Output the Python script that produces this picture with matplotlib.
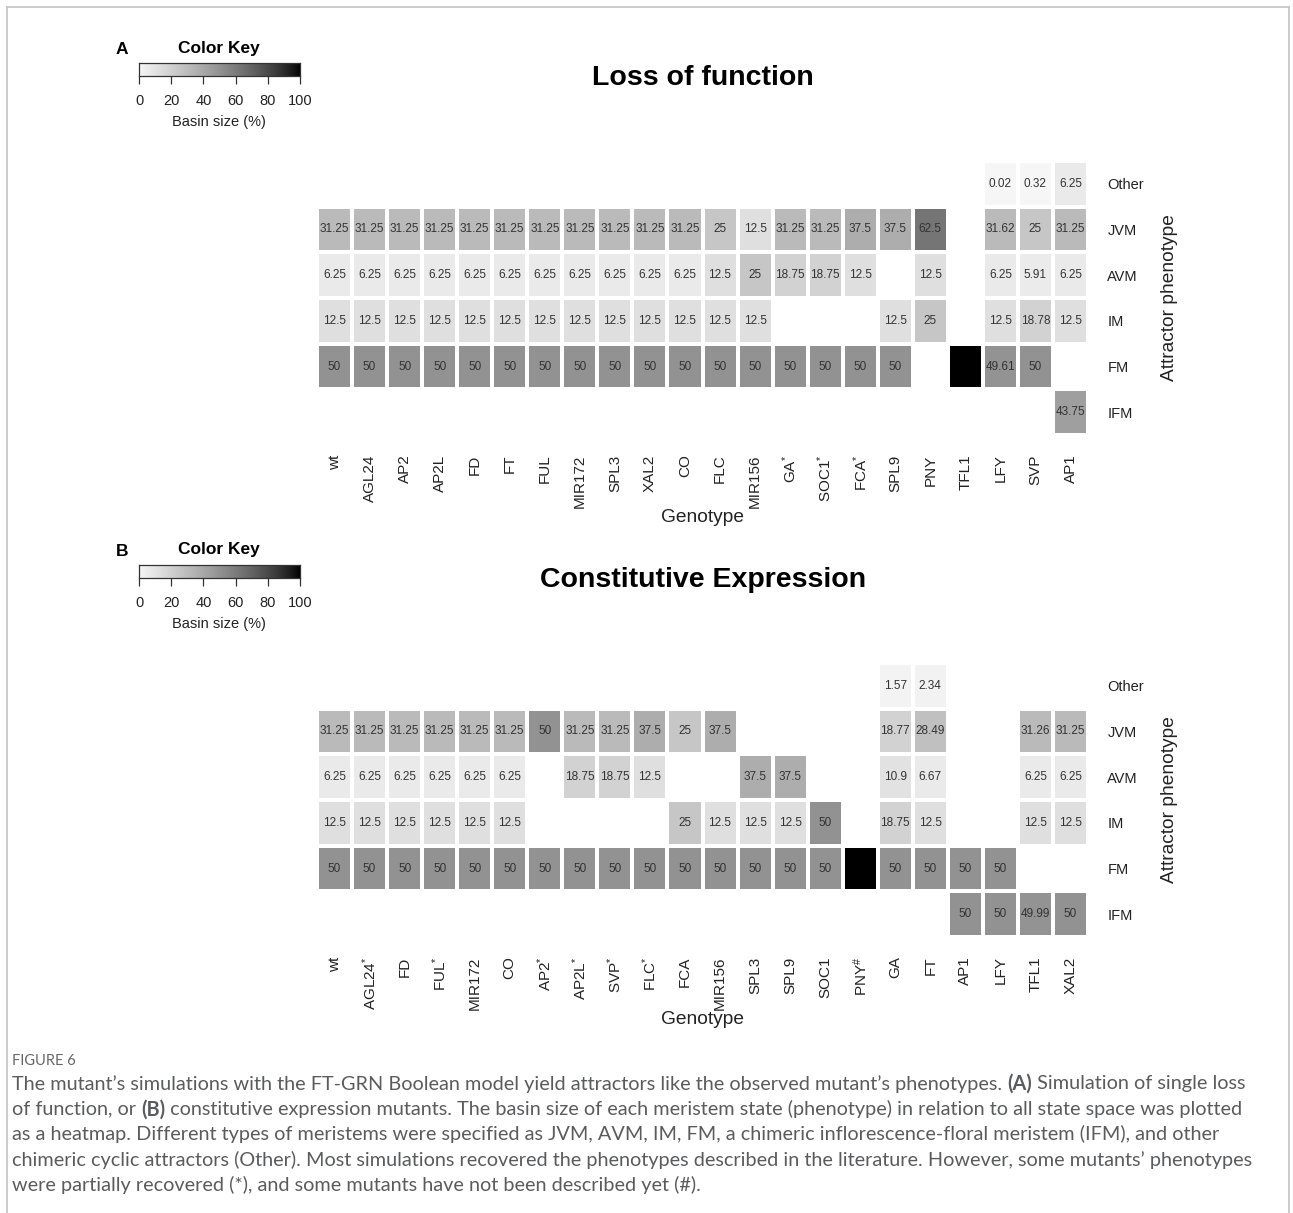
import numpy as np
import matplotlib
matplotlib.use('Agg')
import matplotlib.pyplot as plt
from matplotlib.colors import ListedColormap
from matplotlib.lines import Line2D

plt.rcParams['font.family'] = ['Liberation Sans', 'DejaVu Sans']
plt.rcParams['mathtext.default'] = 'regular'

W, H = 1293, 1213
nan = np.nan

phenotypes = ['Other', 'JVM', 'AVM', 'IM', 'FM', 'IFM']

# A: loss of function mutants
lof_genotypes = ['wt', 'AGL24', 'AP2', 'AP2L', 'FD', 'FT', 'FUL', 'MIR172', 'SPL3', 'XAL2',
                 'CO', 'FLC', 'MIR156', 'GA$^{*}$', 'SOC1$^{*}$', 'FCA$^{*}$', 'SPL9', 'PNY',
                 'TFL1', 'LFY', 'SVP', 'AP1']
lof_other = [nan] * 19 + [0.02, 0.32, 6.25]
lof_jvm = [31.25] * 11 + [25, 12.5, 31.25, 31.25, 37.5, 37.5, 62.5, nan, 31.62, 25, 31.25]
lof_avm = [6.25] * 11 + [12.5, 25, 18.75, 18.75, 12.5, nan, 12.5, nan, 6.25, 5.91, 6.25]
lof_im = [12.5] * 11 + [12.5, 12.5, nan, nan, nan, 12.5, 25, nan, 12.5, 18.78, 12.5]
lof_fm = [50] * 11 + [50, 50, 50, 50, 50, 50, nan, 100, 49.61, 50, nan]
lof_ifm = [nan] * 21 + [43.75]

# B: constitutive expression mutants
ce_genotypes = ['wt', 'AGL24$^{*}$', 'FD', 'FUL$^{*}$', 'MIR172', 'CO', 'AP2$^{*}$', 'AP2L$^{*}$',
                'SVP$^{*}$', 'FLC$^{*}$', 'FCA', 'MIR156', 'SPL3', 'SPL9', 'SOC1', r'PNY$^{\#}$',
                'GA', 'FT', 'AP1', 'LFY', 'TFL1', 'XAL2']
ce_other = [nan] * 16 + [1.57, 2.34, nan, nan, nan, nan]
ce_jvm = [31.25] * 6 + [50, 31.25, 31.25, 37.5, 25, 37.5, nan, nan, nan, nan,
                        18.77, 28.49, nan, nan, 31.26, 31.25]
ce_avm = [6.25] * 6 + [nan, 18.75, 18.75, 12.5, nan, nan, 37.5, 37.5, nan, nan,
                       10.9, 6.67, nan, nan, 6.25, 6.25]
ce_im = [12.5] * 6 + [nan, nan, nan, nan, 25, 12.5, 12.5, 12.5, 50, nan,
                      18.75, 12.5, nan, nan, 12.5, 12.5]
ce_fm = [50] * 15 + [100, 50, 50, 50, 50, nan, nan]
ce_ifm = [nan] * 18 + [50, 50, 49.99, 50]

key_ticks = [0, 20, 40, 60, 80, 100]

# grey ramp, light at 0 and black at 100
_t = np.linspace(0, 1, 256)
_g = 0.965 * (1 - _t) ** 0.75
cmap_basin = ListedColormap(np.column_stack([_g, _g, _g]))

fig = plt.figure(figsize=(W / 100, H / 100), dpi=100)


def px_axes(x0, y0, x1, y1):
    return fig.add_axes([x0 / W, 1 - y1 / H, (x1 - x0) / W, (y1 - y0) / H])


def fx(x):
    return x / W


def fy(y):
    return 1 - y / H


def draw_panel(dy, letter, title, genotypes, rows):
    data = np.array(rows, dtype=float)
    nr, nc = data.shape

    # colour key
    fig.text(fx(122), fy(50 + dy), letter, fontsize=12.5, fontweight='bold', ha='center', va='center')
    fig.text(fx(219), fy(48 + dy), 'Color Key', fontsize=12.5, fontweight='bold', ha='center', va='center')
    kax = px_axes(139, 63 + dy, 300, 76 + dy)
    kax.imshow(np.linspace(0, 100, 256).reshape(1, -1), cmap=cmap_basin, vmin=0, vmax=100,
               aspect='auto', extent=[0, 100, 0, 1])
    kax.set_yticks([])
    kax.set_xticks(key_ticks)
    kax.set_xticklabels([str(t) for t in key_ticks])
    kax.tick_params(axis='x', direction='out', length=6, width=0.9, pad=7, labelsize=10.5,
                    colors='#333333', labelcolor='#222222')
    for s in kax.spines.values():
        s.set_linewidth(0.9)
        s.set_color('#333333')
    fig.text(fx(219), fy(122 + dy), 'Basin size (%)', fontsize=10.5, ha='center', va='center', color='#222222')

    fig.text(fx(703), fy(78 + dy), title, fontsize=20.5, fontweight='bold', ha='center', va='center')

    # heatmap
    ax = px_axes(317, 161 + dy, 1088, 435 + dy)
    ax.pcolormesh(np.ma.masked_invalid(data), cmap=cmap_basin, vmin=0, vmax=100,
                  edgecolors='white', linewidth=1.6)
    ax.set_xlim(0, nc)
    ax.set_ylim(nr, 0)
    for i in range(nr):
        for j in range(nc):
            v = data[i, j]
            # cells at full basin size are black and carry no readable number
            if not np.isnan(v) and v < 100:
                ax.text(j + 0.5, i + 0.5, f'{v:g}', ha='center', va='center',
                        fontsize=8.5, color='#333333')
    for s in ax.spines.values():
        s.set_visible(False)
    ax.set_xticks(np.arange(nc) + 0.5)
    ax.set_xticklabels(genotypes, rotation=90, fontsize=11)
    ax.yaxis.tick_right()
    ax.set_yticks(np.arange(nr) + 0.5)
    ax.set_yticklabels(phenotypes, fontsize=10.5)
    ax.tick_params(axis='x', length=0, pad=14, labelcolor='#222222')
    ax.tick_params(axis='y', length=0, pad=14, labelcolor='#222222')

    fig.text(fx(703), fy(517 + dy), 'Genotype', fontsize=13.8, ha='center', va='center', color='#222222')
    fig.text(fx(1170), fy(298 + dy), 'Attractor phenotype', fontsize=13.8, rotation=90,
             ha='center', va='center', color='#222222')


draw_panel(0, 'A', 'Loss of function', lof_genotypes,
           [lof_other, lof_jvm, lof_avm, lof_im, lof_fm, lof_ifm])
draw_panel(502, 'B', 'Constitutive Expression', ce_genotypes,
           [ce_other, ce_jvm, ce_avm, ce_im, ce_fm, ce_ifm])

# frame around the figure (open at the bottom)
frame_kw = dict(color='#c4c4c4', linewidth=1.2, transform=fig.transFigure)
fig.add_artist(Line2D([fx(7), fx(7)], [fy(7), 0], **frame_kw))
fig.add_artist(Line2D([fx(7), fx(1289)], [fy(7), fy(7)], **frame_kw))
fig.add_artist(Line2D([fx(1289), fx(1289)], [fy(7), 0], **frame_kw))

# caption
cap_color = '#5a5b5d'
cap_font = ['Lato', 'DejaVu Sans']
fig.text(fx(12), fy(1061), 'FIGURE 6', fontsize=10.5, color='#666666', family=cap_font,
         ha='left', va='center')

caption = [
    [('The mutant\u2019s simulations with the FT-GRN Boolean model yield attractors like the observed '
      'mutant\u2019s phenotypes. ', False), ('(A)', True), (' Simulation of single loss', False)],
    [('of function, or ', False), ('(B)', True),
     (' constitutive expression mutants. The basin size of each meristem state (phenotype) in relation '
      'to all state space was plotted', False)],
    [('as a heatmap. Different types of meristems were specified as JVM, AVM, IM, FM, a chimeric '
      'inflorescence-floral meristem (IFM), and other', False)],
    [('chimeric cyclic attractors (Other). Most simulations recovered the phenotypes described in the '
      'literature. However, some mutants\u2019 phenotypes', False)],
    [('were partially recovered (*), and some mutants have not been described yet (#).', False)],
]

renderer = fig.canvas.get_renderer()

# size the caption so the longest line spans the text block
probe = fig.text(0, 0, caption[3][0][0], fontsize=12, family=cap_font)
w12 = probe.get_window_extent(renderer).width
probe.remove()
cap_size = 12 * (1250 - 12) / w12

for k, line in enumerate(caption):
    x = 12
    y = 1084 + 25.2 * k
    for txt, bold in line:
        t = fig.text(fx(x), fy(y), txt, fontsize=cap_size, family=cap_font, color=cap_color,
                     fontweight='bold' if bold else 'normal', ha='left', va='center')
        x += t.get_window_extent(renderer).width

fig.savefig('out.png', dpi=100, facecolor='white')
